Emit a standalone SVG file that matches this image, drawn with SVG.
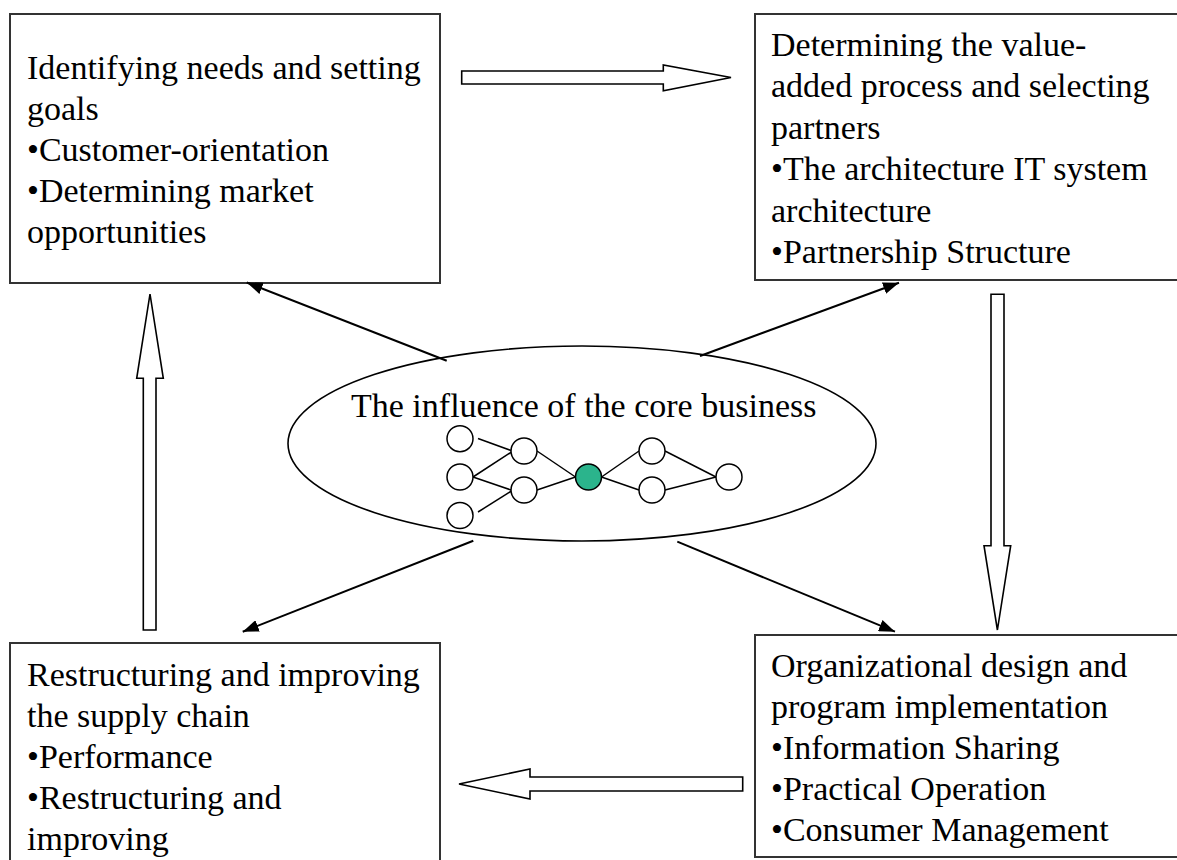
<svg xmlns="http://www.w3.org/2000/svg" width="1177" height="860" viewBox="0 0 1177 860">
<style>
.box{fill:#fff;stroke:#333;stroke-width:2}
.t{font-family:"Liberation Serif","Times New Roman",serif;font-size:34px;fill:#000}
.blk{fill:#fff;stroke:#000;stroke-width:1.6;stroke-linejoin:miter}
.con{stroke:#000;stroke-width:2;fill:none}
.nd{fill:#fff;stroke:#000;stroke-width:1.5}
.ln{stroke:#000;stroke-width:1.5}
</style>
<defs>
<marker id="ah" viewBox="0 0 16 12" refX="16" refY="6" markerWidth="16" markerHeight="12" markerUnits="userSpaceOnUse" orient="auto">
<path d="M0,0 L16,6 L0,12 Z" fill="#000"/>
</marker>
</defs>
<rect width="1177" height="860" fill="#fff"/>

<g id="box-goals">
<rect class="box" x="10" y="14" width="430" height="269"/>
<text class="t" x="27" y="79">Identifying needs and setting</text>
<text class="t" x="27" y="120">goals</text>
<text class="t" x="27" y="161">•Customer-orientation</text>
<text class="t" x="27" y="202">•Determining market</text>
<text class="t" x="27" y="243">opportunities</text>
</g>

<g id="box-partners">
<rect class="box" x="755" y="14" width="430" height="266"/>
<text class="t" x="771" y="56">Determining the value-</text>
<text class="t" x="771" y="97">added process and selecting</text>
<text class="t" x="771" y="139">partners</text>
<text class="t" x="771" y="180">•The architecture IT system</text>
<text class="t" x="771" y="222">architecture</text>
<text class="t" x="771" y="263">•Partnership Structure</text>
</g>

<g id="box-supply">
<rect class="box" x="10" y="643" width="430" height="230"/>
<text class="t" x="27" y="686">Restructuring and improving</text>
<text class="t" x="27" y="727">the supply chain</text>
<text class="t" x="27" y="768">•Performance</text>
<text class="t" x="27" y="809">•Restructuring and</text>
<text class="t" x="27" y="850">improving</text>
</g>

<g id="box-organization">
<rect class="box" x="755" y="635" width="430" height="222"/>
<text class="t" x="771" y="677">Organizational design and</text>
<text class="t" x="771" y="718">program implementation</text>
<text class="t" x="771" y="759">•Information Sharing</text>
<text class="t" x="771" y="800">•Practical Operation</text>
<text class="t" x="771" y="841">•Consumer Management</text>
</g>

<g id="core">
<ellipse cx="582" cy="443.5" rx="294" ry="97.5" fill="#fff" stroke="#000" stroke-width="1.6"/>
<text class="t" x="351" y="417">The influence of the core business</text>
<g id="network">
<line class="ln" x1="478" y1="438.5" x2="511" y2="450.5"/>
<line class="ln" x1="473" y1="477" x2="511.5" y2="452"/>
<line class="ln" x1="473" y1="477" x2="511" y2="490"/>
<line class="ln" x1="478" y1="512" x2="511.5" y2="491"/>
<line class="ln" x1="537" y1="451" x2="575.5" y2="477"/>
<line class="ln" x1="537" y1="490" x2="575.5" y2="477"/>
<line class="ln" x1="601.5" y1="477" x2="639" y2="451"/>
<line class="ln" x1="601.5" y1="477" x2="639" y2="490"/>
<line class="ln" x1="665" y1="451" x2="716" y2="477"/>
<line class="ln" x1="665" y1="490" x2="716" y2="477"/>
<circle class="nd" cx="460" cy="438.7" r="13"/>
<circle class="nd" cx="460" cy="477" r="13"/>
<circle class="nd" cx="460" cy="515.5" r="13"/>
<circle class="nd" cx="524" cy="451" r="13"/>
<circle class="nd" cx="524" cy="490" r="13"/>
<circle cx="588.5" cy="477" r="13" fill="#2bb48c" stroke="#000" stroke-width="1.5"/>
<circle class="nd" cx="652" cy="451" r="13"/>
<circle class="nd" cx="652" cy="490" r="13"/>
<circle class="nd" cx="729" cy="477" r="13"/>
</g>
</g>

<g id="connectors">
<line class="con" x1="446.7" y1="360.7" x2="246.7" y2="282.5" marker-end="url(#ah)"/>
<line class="con" x1="700" y1="356" x2="899" y2="282.7" marker-end="url(#ah)"/>
<line class="con" x1="473.3" y1="540.7" x2="242.7" y2="631.7" marker-end="url(#ah)"/>
<line class="con" x1="677.3" y1="541.7" x2="895" y2="631.7" marker-end="url(#ah)"/>
<polygon class="blk" points="461.7,71 663.3,71 663.3,65 731,77.5 663.3,90.7 663.3,84 461.7,84"/>
<polygon class="blk" points="991,294.3 1004,294.3 1004,545.7 1010.7,545.7 997.4,630 984,545.7 991,545.7"/>
<polygon class="blk" points="742.7,777 530,777 530,769 459,784 530,799 530,791 742.7,791"/>
<polygon class="blk" points="143.3,630 156,630 156,378.3 163.3,378.3 150,294 136.7,378.3 143.3,378.3"/>
</g>
</svg>
